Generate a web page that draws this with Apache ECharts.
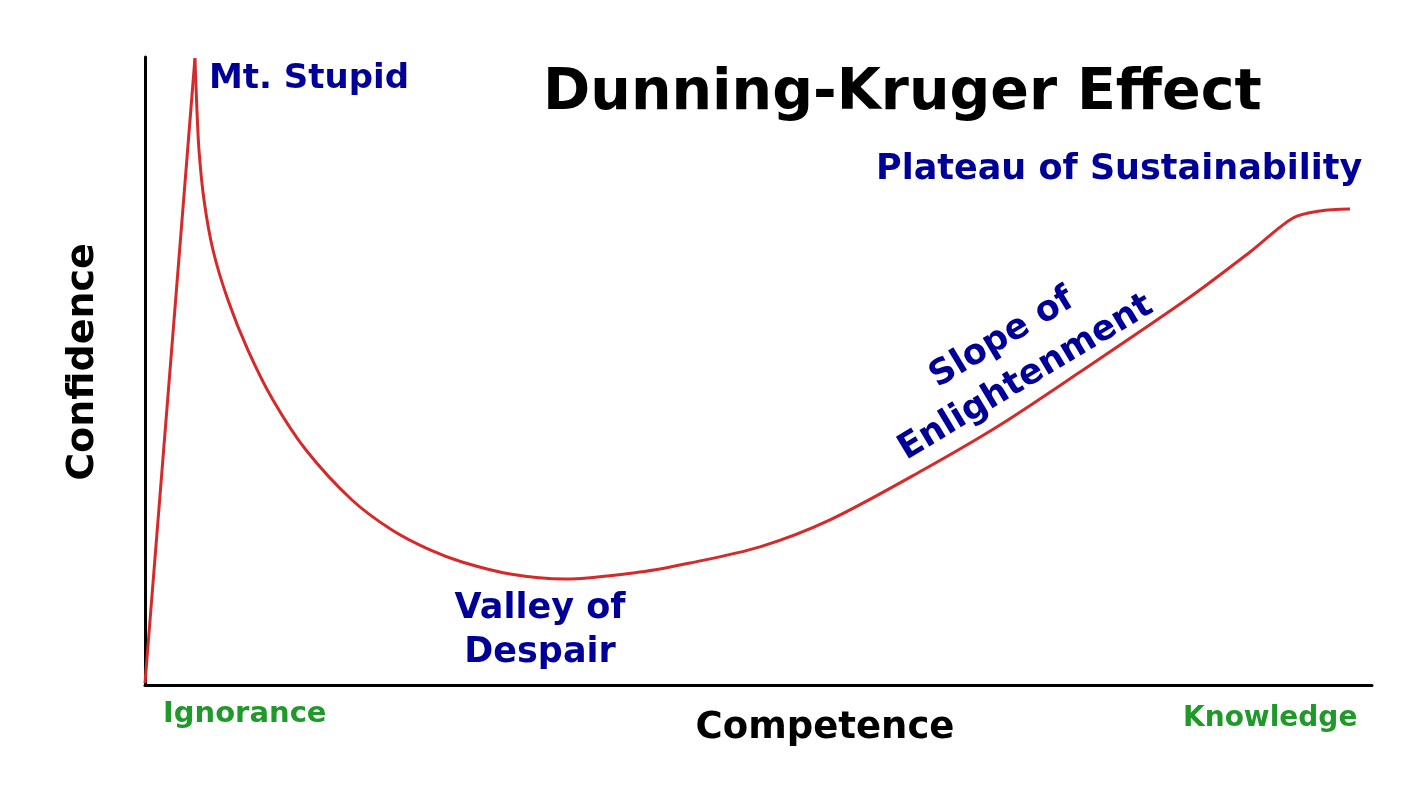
<!DOCTYPE html>
<html>
<head>
<meta charset="utf-8">
<script src="https://cdn.jsdelivr.net/npm/echarts@6/dist/echarts.min.js"></script>
<style>html,body{margin:0;padding:0;background:#fff;}#c{width:1426px;height:792px;}</style>
</head>
<body>
<div id="c"></div>
<script>
// Competence (x, 0-100) vs Confidence (y, 0-100)
const risePoints = [[0, 0.3], [4.07, 99.8]];
const curvePoints = [
  [4.07, 99.8], [4.20, 93.15], [4.40, 85.19], [4.81, 77.23], [5.54, 69.27],
  [6.76, 61.31], [8.39, 53.34], [10.43, 45.38], [13.12, 37.42], [16.87, 29.46],
  [20.13, 24.68], [23.23, 21.50], [25.84, 19.59], [29.75, 17.68], [34.23, 16.88],
  [40.34, 17.99], [44.42, 19.43], [50.12, 22.0], [55.83, 26.3], [63.41, 34.24],
  [69.68, 41.40], [76.20, 49.84], [85.17, 61.78], [90.06, 68.95], [93.56, 74.36],
  [95.76, 75.48], [98.21, 75.80]
];
const titleText = 'Dunning-Kruger Effect';
const xName = 'Competence';
const yName = 'Confidence';
const xEndLabels = ['Ignorance', 'Knowledge'];
const stageLabels = ['Mt. Stupid', 'Valley of\nDespair', 'Slope of\nEnlightenment', 'Plateau of Sustainability'];

const FONT = '"DejaVu Sans", Verdana, sans-serif';
const BLUE = '#000099';
const GREEN = '#1f9a2a';
const RED = '#d42a2a';

const chart = echarts.init(document.getElementById('c'));
chart.setOption({
  backgroundColor: '#ffffff',
  animation: false,
  grid: { left: 145, top: 57, width: 1227, height: 628 },
  xAxis: {
    type: 'value', min: 0, max: 100,
    axisLine: { show: true, lineStyle: { color: '#000', width: 3 } },
    axisTick: { show: false }, axisLabel: { show: false }, splitLine: { show: false }
  },
  yAxis: {
    type: 'value', min: 0, max: 100,
    axisLine: { show: true, lineStyle: { color: '#000', width: 3 } },
    axisTick: { show: false }, axisLabel: { show: false }, splitLine: { show: false }
  },
  series: [
    { type: 'line', data: risePoints, symbol: 'none', lineStyle: { color: RED, width: 3 } },
    { type: 'line', data: curvePoints, symbol: 'none', smooth: 0.3, lineStyle: { color: RED, width: 3 } }
  ],
  graphic: [
    { type: 'text', left: 543, top: 66, style: { text: titleText, font: 'bold 57px ' + FONT, fill: '#000' } },
    { type: 'text', left: 209, top: 62, style: { text: stageLabels[0], font: 'bold 34px ' + FONT, fill: BLUE } },
    { type: 'text', x: 540, y: 631, style: { text: stageLabels[1], font: 'bold 35px ' + FONT, fill: BLUE, align: 'center', verticalAlign: 'middle', lineHeight: 44 } },
    { type: 'text', x: 1014, y: 358, rotation: 31 * Math.PI / 180, style: { text: stageLabels[2], font: 'bold 35px ' + FONT, fill: BLUE, align: 'center', verticalAlign: 'middle', lineHeight: 46 } },
    { type: 'text', left: 876, top: 152, style: { text: stageLabels[3], font: 'bold 35px ' + FONT, fill: BLUE } },
    { type: 'text', left: 163, top: 700, style: { text: xEndLabels[0], font: 'bold 29px ' + FONT, fill: GREEN } },
    { type: 'text', left: 1183, top: 705, style: { text: xEndLabels[1], font: 'bold 28px ' + FONT, fill: GREEN } },
    { type: 'text', x: 825, y: 728, style: { text: xName, font: 'bold 37px ' + FONT, fill: '#000', align: 'center', verticalAlign: 'middle' } },
    { type: 'text', x: 83, y: 362, rotation: Math.PI / 2, style: { text: yName, font: 'bold 38px ' + FONT, fill: '#000', align: 'center', verticalAlign: 'middle' } }
  ]
});
</script>
</body>
</html>
